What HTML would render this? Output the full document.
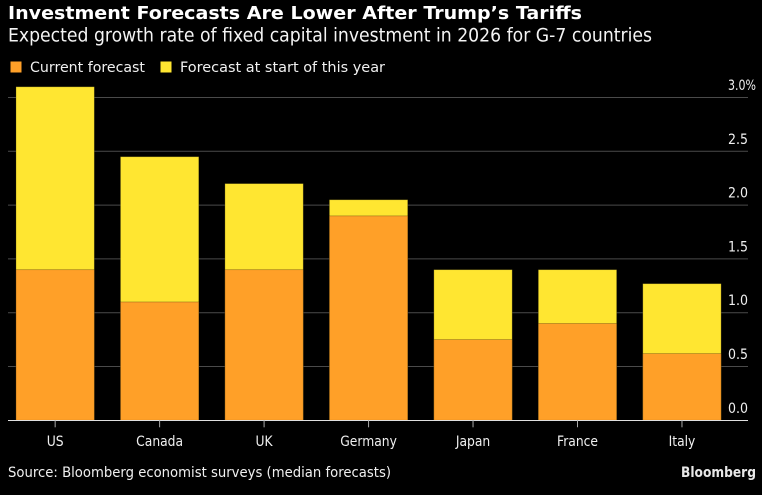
<!DOCTYPE html>
<html lang="en">
<head>
<meta charset="utf-8">
<title>Investment Forecasts Are Lower After Trump's Tariffs</title>
<style>
html,body{margin:0;padding:0;background:#000;}
body{width:762px;height:495px;overflow:hidden;}
svg{display:block;}
text{fill:#f0f0f0;font-family:"DejaVu Sans","Liberation Sans",sans-serif;}
</style>
</head>
<body>
<svg id="chart" width="762" height="495" viewBox="0 0 762 495" xmlns="http://www.w3.org/2000/svg">
  <rect x="0" y="0" width="762" height="495" fill="#000"/>
  <text x="8" y="19" font-size="18" font-weight="700" textLength="574" lengthAdjust="spacingAndGlyphs" style="fill:#fff">Investment Forecasts Are Lower After Trump’s Tariffs</text>
  <text x="8" y="41.5" font-size="18.5" textLength="644" lengthAdjust="spacingAndGlyphs" style="fill:#f4f4f4">Expected growth rate of fixed capital investment in 2026 for G-7 countries</text>
  <g>
    <g>
      <rect x="10.5" y="61.5" width="11" height="11" fill="#ffa028"/>
      <text x="30" y="72" font-size="14.5" textLength="115" lengthAdjust="spacingAndGlyphs">Current forecast</text>
    </g>
    <g>
      <rect x="160.5" y="61.5" width="11" height="11" fill="#ffe631"/>
      <text x="180" y="72" font-size="14.5" textLength="205" lengthAdjust="spacingAndGlyphs">Forecast at start of this year</text>
    </g>
  </g>
  <g id="grid"></g>
  <g id="bars"></g>
  <g id="yaxis"></g>
  <g id="xaxis"></g>
  <text x="8" y="477" font-size="14.5" textLength="383" lengthAdjust="spacingAndGlyphs">Source: Bloomberg economist surveys (median forecasts)</text>
  <text x="681" y="477" font-size="14" font-weight="700" textLength="75" lengthAdjust="spacingAndGlyphs" style="fill:#e8e8e8">Bloomberg</text>
</svg>
<script>
const categories = ['US', 'Canada', 'UK', 'Germany', 'Japan', 'France', 'Italy'];
const currentForecast = [1.4, 1.1, 1.4, 1.9, 0.75, 0.9, 0.62];
const startOfYearForecast = [3.1, 2.45, 2.2, 2.05, 1.4, 1.4, 1.27];
const yTicks = [0, 0.5, 1, 1.5, 2, 2.5, 3];
const yTickLabels = ['0.0', '0.5', '1.0', '1.5', '2.0', '2.5', '3.0%'];

const NS = 'http://www.w3.org/2000/svg';
const baselineY = 420.3;
const pixelsPerUnit = 107.6;
const firstBandCenter = 55.15;
const bandStep = 104.47;
const barWidth = 78.4;
const plotLeft = 8;
const plotRight = 748;
const textSqueeze = 0.85;

function yScale(v) { return baselineY - v * pixelsPerUnit; }
function xScale(i) { return firstBandCenter + i * bandStep; }
function make(tag, attrs, parent) {
  const el = document.createElementNS(NS, tag);
  Object.keys(attrs).forEach(function (k) { el.setAttribute(k, attrs[k]); });
  parent.appendChild(el);
  return el;
}

const grid = document.getElementById('grid');
const yaxis = document.getElementById('yaxis');
yTicks.forEach(function (t, i) {
  if (t !== 0) {
    const line = make('line', { x1: plotLeft, x2: plotRight, y1: yScale(t), y2: yScale(t), stroke: '#4a4a4a', 'stroke-width': 1 }, grid);
    
    
  }
  const label = make('text', { x: 728, y: yScale(t) - 7.5, 'font-size': 14.5 }, yaxis);
  
  
  label.textContent = yTickLabels[i];
  label.setAttribute('textLength', yTickLabels[i].length > 3 ? 28 : 20);
  label.setAttribute('lengthAdjust', 'spacingAndGlyphs');
});

const bars = document.getElementById('bars');
categories.forEach(function (c, i) {
  const x = xScale(i) - barWidth / 2;
  const back = make('rect', { x: x, y: yScale(startOfYearForecast[i]), width: barWidth, height: baselineY - yScale(startOfYearForecast[i]), fill: '#ffe631', stroke: 'rgba(0,0,0,0.3)', 'stroke-width': 0.8 }, bars);
  
  
  const front = make('rect', { x: x, y: yScale(currentForecast[i]), width: barWidth, height: baselineY - yScale(currentForecast[i]), fill: '#ffa028', stroke: 'rgba(0,0,0,0.3)', 'stroke-width': 0.8 }, bars);
  
  
});

const xaxis = document.getElementById('xaxis');
const axisLine = make('line', { x1: plotLeft, x2: plotRight, y1: baselineY + 0.2, y2: baselineY + 0.2, stroke: '#e0e0e0', 'stroke-width': 1 }, xaxis);


categories.forEach(function (c, i) {
  const tick = make('line', { x1: xScale(i), x2: xScale(i), y1: baselineY, y2: baselineY + 7, stroke: '#aaaaaa', 'stroke-width': 1 }, xaxis);
  
  
  const label = make('text', { x: xScale(i), y: 446, 'font-size': 14.5, 'text-anchor': 'middle' }, xaxis);
  
  
  label.textContent = c;
  label.setAttribute('textLength', (label.getComputedTextLength() * textSqueeze).toFixed(1));
  label.setAttribute('lengthAdjust', 'spacingAndGlyphs');
});
</script>
</body>
</html>
